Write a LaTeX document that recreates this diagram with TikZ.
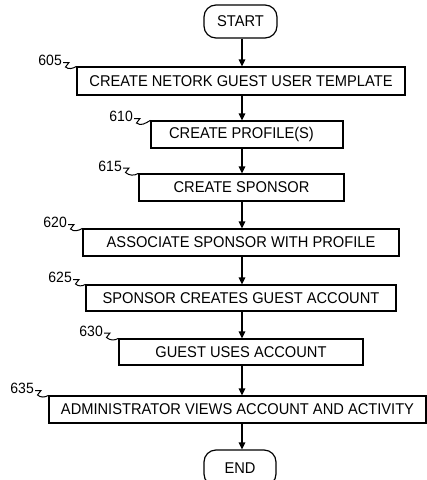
\documentclass[tikz,border=0pt]{standalone}
\usepackage{fontspec}
\setmainfont{Liberation Sans}[FakeStretch=0.94]
\usetikzlibrary{arrows.meta}
\begin{document}
\begin{tikzpicture}[x=1pt,y=-1pt,
  stepbox/.style={draw, line width=1.2pt, inner sep=0pt, font=\fontsize{15.6}{17}\selectfont},
  term/.style={draw, line width=1.2pt, rounded corners=12pt, inner sep=0pt, font=\fontsize{15.6}{17}\selectfont},
  lbl/.style={inner sep=0pt, anchor=east, font=\fontsize{14.9}{16}\selectfont},
  flow/.style={line width=1.3pt, -{Triangle[length=7pt,width=6.5pt]}},
  squig/.style={line width=1pt}]
\useasboundingbox (0,0) rectangle (427,480);
\clip (0,0) rectangle (427,480);
\coordinate (spine) at (242,0);
% terminators
\node[term, minimum width=73pt, minimum height=33pt] (start) at (240.5,21.5) {START};
\node[term, minimum width=72pt, minimum height=36pt] (end) at (240,468) {END};
% process boxes
\node[stepbox, minimum width=328pt, minimum height=28pt] (b605) at (241,81) {CREATE NETORK GUEST USER TEMPLATE};
\node[stepbox, minimum width=192pt, minimum height=27pt] (b610) at (247,134.5) {\hspace*{-11pt}CREATE PROFILE(S)};
\node[stepbox, minimum width=205pt, minimum height=27pt] (b615) at (241.5,187.5) {CREATE SPONSOR};
\node[stepbox, minimum width=316pt, minimum height=27pt] (b620) at (241,242.5) {ASSOCIATE SPONSOR WITH PROFILE};
\node[stepbox, minimum width=310pt, minimum height=26pt] (b625) at (241,298) {SPONSOR CREATES GUEST ACCOUNT};
\node[stepbox, minimum width=244pt, minimum height=26pt] (b630) at (241,352) {GUEST USES ACCOUNT};
\node[stepbox, minimum width=377pt, minimum height=27pt] (b635) at (237.5,409.5) {ADMINISTRATOR VIEWS ACCOUNT AND ACTIVITY};
% reference labels
\node[lbl] (l605) at (62,60.5) {605};
\node[lbl] (l610) at (133,116.5) {610};
\node[lbl] (l615) at (122,166) {615};
\node[lbl] (l620) at (67,222.5) {620};
\node[lbl] (l625) at (72,277.5) {625};
\node[lbl] (l630) at (103,331) {630};
\node[lbl] (l635) at (34,388.5) {635};
\foreach \n in {605,610,615,620,625,630,635}{
  \draw[squig] ([xshift=1pt,yshift=-2pt]l\n.east) -- ++(6,0) -- ++(-3.5,4.5)
     to[out=-40,in=-150] (b\n.north west);
}
% connectors
\draw[flow] (start.south -| spine) -- (b605.north -| spine);
\draw[flow] (b605.south -| spine) -- (b610.north -| spine);
\draw[flow] (b610.south -| spine) -- (b615.north -| spine);
\draw[flow] (b615.south -| spine) -- (b620.north -| spine);
\draw[flow] (b620.south -| spine) -- (b625.north -| spine);
\draw[flow] (b625.south -| spine) -- (b630.north -| spine);
\draw[flow] (b630.south -| spine) -- (b635.north -| spine);
\draw[flow] (b635.south -| spine) -- (end.north -| spine);
\end{tikzpicture}
\end{document}
